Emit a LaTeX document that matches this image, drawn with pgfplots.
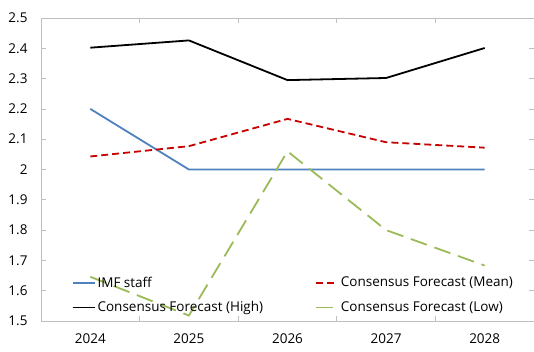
\documentclass[border=0pt]{standalone}
\usepackage{pgfplots}
\pgfplotsset{compat=1.18}
\usepackage{fontspec}
\setmainfont{Open Sans}
\definecolor{imfblue}{RGB}{79,129,189}
\definecolor{meanred}{RGB}{200,0,0}
\definecolor{lowgreen}{RGB}{155,187,89}
\definecolor{axgray}{RGB}{191,191,191}
\begin{document}
\begin{tikzpicture}
\useasboundingbox (-41bp,-31bp) rectangle (493bp,321bp);
\begin{axis}[
  at={(0,0)}, anchor=south west,
  scale only axis, width=493bp, height=303bp,
  xmin=-0.5, xmax=4.5, ymin=1.5, ymax=2.5,
  xtick={0,1,2,3,4},
  xticklabels={2024,2025,2026,2027,2028},
  minor xtick={0.5,1.5,2.5,3.5},
  major x tick style={draw=none},
  minor tick length=5bp,
  ytick={1.5,1.6,...,2.51},
  major tick length=5bp,
  tick align=inside,
  tick style={axgray, line width=0.75bp},
  axis line style={axgray, line width=0.9bp},
  every x tick label/.style={yshift=-9bp},
  every y tick label/.style={xshift=-10bp},
  yticklabel style={/pgf/number format/fixed, /pgf/number format/precision=1},
  /pgf/number format/assume math mode=true,
  tick label style={font=\fontsize{13.5bp}{15bp}\selectfont, text=black},
  legend style={draw=none, fill=none, at={(0.062,0.018)}, anchor=south west,
    font=\fontsize{13.5bp}{15bp}\selectfont, row sep=9bp, inner sep=0pt},
  legend columns=2,
  legend cell align=left,
  /tikz/every even column/.append style={column sep=50bp},
  legend image code/.code={\draw[#1] (0bp,0bp) -- (22bp,0bp);},
  clip=false,
]
\addplot[imfblue, line width=1.8bp] coordinates {(0,2.20) (1,2.00) (2,2.00) (3,2.00) (4,2.00)};
\addlegendentry{IMF staff}
\addplot[meanred, line width=1.8bp, dash pattern=on 7bp off 4bp] coordinates {(0,2.043) (1,2.077) (2,2.167) (3,2.090) (4,2.072)};
\addlegendentry{Consensus Forecast (Mean)}
\addplot[black, line width=1.8bp] coordinates {(0,2.402) (1,2.426) (2,2.295) (3,2.302) (4,2.401)};
\addlegendentry{Consensus Forecast (High)}
\addplot[lowgreen, line width=1.8bp, dash pattern=on 17bp off 8bp] coordinates {(0,1.646) (1,1.518) (2,2.060) (3,1.800) (4,1.683)};
\addlegendentry{Consensus Forecast (Low)}
\end{axis}
\end{tikzpicture}
\end{document}
